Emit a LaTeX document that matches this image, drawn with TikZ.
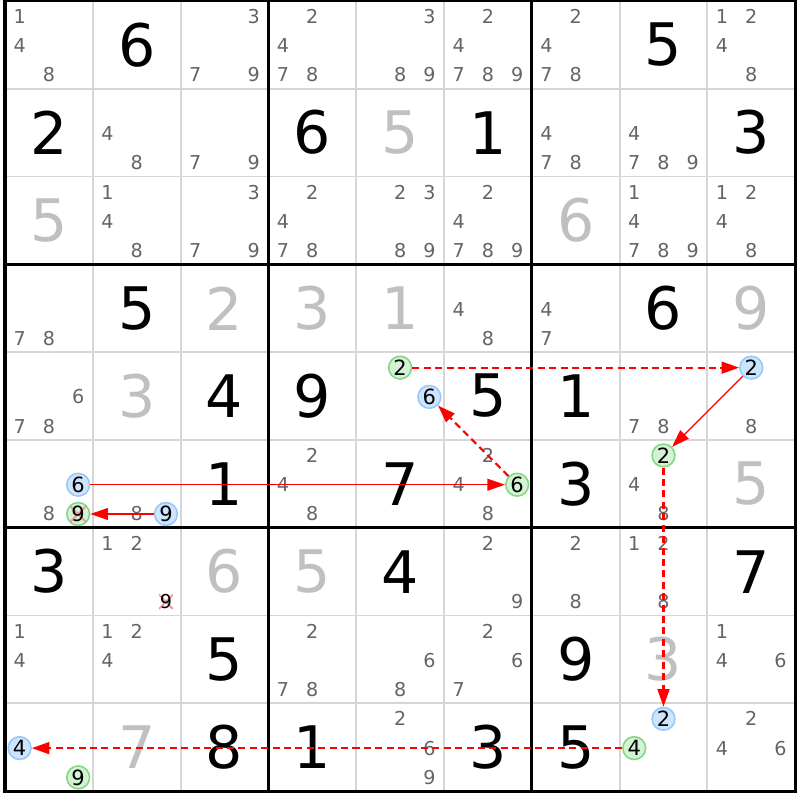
\documentclass[tikz,border=0pt]{standalone}
\usepackage{fontspec}
\setmainfont{DejaVu Sans}
\usetikzlibrary{arrows.meta}
\definecolor{candgray}{RGB}{100,100,100}
\definecolor{solvedgray}{RGB}{192,192,192}
\definecolor{gridgray}{RGB}{214,214,214}
\definecolor{bluefill}{RGB}{206,228,252}
\definecolor{blueline}{RGB}{150,200,250}
\definecolor{greenfill}{RGB}{212,242,212}
\definecolor{greenline}{RGB}{130,215,130}
\definecolor{crossred}{RGB}{242,150,162}
\definecolor{linkred}{RGB}{255,0,0}
\tikzset{
  given/.style={font=\fontsize{19}{19}\selectfont, inner sep=0pt},
  solved/.style={given, text=solvedgray},
  cand/.style={font=\fontsize{6.2}{6.2}\selectfont, inner sep=0pt, text=candgray},
  bluecand/.style={cand, font=\fontsize{6.8}{6.8}\selectfont, text=black, circle, draw=blueline, fill=bluefill, line width=0.5pt, minimum size=0.26cm},
  greencand/.style={bluecand, draw=greenline, fill=greenfill},
  crossed/.style={path picture={\draw[crossred, line width=0.6pt] (path picture bounding box.north west) -- (path picture bounding box.south east) (path picture bounding box.south west) -- (path picture bounding box.north east);}},
  strong/.style={color=linkred, line width=0.4pt, -{Triangle[length=2mm,width=1.35mm]}},
  weak/.style={color=linkred, line width=0.7pt, dash pattern=on 0.08cm off 0.05cm, -{Triangle[length=2mm,width=1.35mm]}},
}
\def\dig[#1](#2,#3)#4{\node[#1] (g#2#3) at (#3-0.5,#2-0.5) {#4};}
\def\cnd[#1](#2,#3)#4{\pgfmathsetmacro\cx{#3-1+(mod(#4-1,3)+0.5)/3}\pgfmathsetmacro\cy{#2-1+(floor((#4-1)/3)+0.5)/3+0.01}\node[#1] (k#2#3#4) at (\cx,\cy) {#4};}
\def\cnds(#1,#2)#3{\foreach \d in {#3}{\cnd[cand](#1,#2){\d}}}

\begin{document}
\begin{tikzpicture}[x=1cm, y=-1cm]
		%%%%% START %%%%%
		\useasboundingbox (-0.057,-0.011) rectangle (9.055,9.1);
		
		% thin cell lines
		\draw[gridgray, line width=0.6pt] (1,0) -- (1,9);
		\draw[gridgray, line width=0.6pt] (2,0) -- (2,9);
		\draw[gridgray, line width=0.6pt] (4,0) -- (4,9);
		\draw[gridgray, line width=0.6pt] (5,0) -- (5,9);
		\draw[gridgray, line width=0.6pt] (7,0) -- (7,9);
		\draw[gridgray, line width=0.6pt] (8,0) -- (8,9);
		\draw[gridgray, line width=0.6pt] (0,1) -- (9,1);
		\draw[gridgray, line width=0.6pt] (0,2) -- (9,2);
		\draw[gridgray, line width=0.6pt] (0,4) -- (9,4);
		\draw[gridgray, line width=0.6pt] (0,5) -- (9,5);
		\draw[gridgray, line width=0.6pt] (0,7) -- (9,7);
		\draw[gridgray, line width=0.6pt] (0,8) -- (9,8);
		
		% box lines
		\draw[line width=1pt] (3,0) -- (3,9);
		\draw[line width=1pt] (6,0) -- (6,9);
		\draw[line width=1pt] (0,3) -- (9,3);
		\draw[line width=1pt] (0,6) -- (9,6);
		\draw[line width=1pt] (0,0) rectangle (9,9);
		
		% givens
		\dig[given](1,2){6}
		\dig[given](1,8){5}
		\dig[given](2,1){2}
		\dig[given](2,4){6}
		\dig[given](2,6){1}
		\dig[given](2,9){3}
		\dig[given](4,2){5}
		\dig[given](4,8){6}
		\dig[given](5,3){4}
		\dig[given](5,4){9}
		\dig[given](5,6){5}
		\dig[given](5,7){1}
		\dig[given](6,3){1}
		\dig[given](6,5){7}
		\dig[given](6,7){3}
		\dig[given](7,1){3}
		\dig[given](7,5){4}
		\dig[given](7,9){7}
		\dig[given](8,3){5}
		\dig[given](8,7){9}
		\dig[given](9,3){8}
		\dig[given](9,4){1}
		\dig[given](9,6){3}
		\dig[given](9,7){5}
		
		% solved
		\dig[solved](2,5){5}
		\dig[solved](3,1){5}
		\dig[solved](3,7){6}
		\dig[solved](4,3){2}
		\dig[solved](4,4){3}
		\dig[solved](4,5){1}
		\dig[solved](4,9){9}
		\dig[solved](5,2){3}
		\dig[solved](6,9){5}
		\dig[solved](7,3){6}
		\dig[solved](7,4){5}
		\dig[solved](8,8){3}
		\dig[solved](9,2){7}
		
		% candidates
		\cnds(1,1){1,4,8}
		\cnds(1,3){3,7,9}
		\cnds(1,4){2,4,7,8}
		\cnds(1,5){3,8,9}
		\cnds(1,6){2,4,7,8,9}
		\cnds(1,7){2,4,7,8}
		\cnds(1,9){1,2,4,8}
		\cnds(2,2){4,8}
		\cnds(2,3){7,9}
		\cnds(2,7){4,7,8}
		\cnds(2,8){4,7,8,9}
		\cnds(3,2){1,4,8}
		\cnds(3,3){3,7,9}
		\cnds(3,4){2,4,7,8}
		\cnds(3,5){2,3,8,9}
		\cnds(3,6){2,4,7,8,9}
		\cnds(3,8){1,4,7,8,9}
		\cnds(3,9){1,2,4,8}
		\cnds(4,1){7,8}
		\cnds(4,6){4,8}
		\cnds(4,7){4,7}
		\cnds(5,1){6,7,8}
		\cnds(5,8){7,8}
		\cnds(5,9){8}
		\cnds(6,1){8}
		\cnds(6,2){8}
		\cnds(6,4){2,4,8}
		\cnds(6,6){2,4,8}
		\cnds(6,8){4,8}
		\cnds(7,2){1,2}
		\cnds(7,6){2,9}
		\cnds(7,7){2,8}
		\cnds(7,8){1,2,8}
		\cnds(8,1){1,4}
		\cnds(8,2){1,2,4}
		\cnds(8,4){2,7,8}
		\cnds(8,5){6,8}
		\cnds(8,6){2,6,7}
		\cnds(8,9){1,4,6}
		\cnds(9,5){2,6,9}
		\cnds(9,9){2,4,6}
		\cnd[cand, text=black, crossed, minimum size=0.16cm](7,2){9}
		
		% chain
		\cnd[bluecand](6,1){6}
		\cnd[greencand, crossed](6,1){9}
		\cnd[bluecand](6,2){9}
		\cnd[greencand](6,6){6}
		\cnd[greencand](5,5){2}
		\cnd[bluecand](5,5){6}
		\cnd[bluecand](5,9){2}
		\cnd[greencand](6,8){2}
		\cnd[bluecand](9,8){2}
		\cnd[greencand](9,8){4}
		\cnd[bluecand](9,1){4}
		\cnd[greencand](9,1){9}
		
		\draw[strong] (k616) -- (k666);
		\draw[weak] (k666) -- (k556);
		\draw[weak] (k552) -- (k592);
		\draw[strong] (k592) -- (k682);
		\draw[weak] (k682) -- (k982);
		\draw[weak] (k984) -- (k914);
		\draw[strong] (k629) -- (k619);
		
		%%%%% END %%%%%
\end{tikzpicture}
\end{document}
